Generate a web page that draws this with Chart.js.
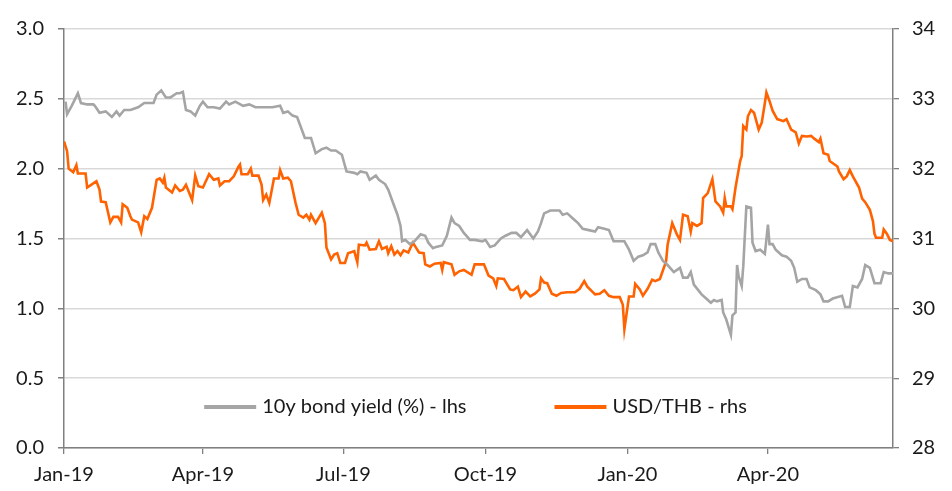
<!DOCTYPE html>
<html><head><meta charset="utf-8">
<script src="https://cdn.jsdelivr.net/npm/chart.js@4.4.1/dist/chart.umd.min.js"></script>
<style>html,body{margin:0;padding:0;background:#fff;}#wrap{width:952px;height:491px;position:relative;}</style>
</head><body><div id="wrap"><canvas id="c"></canvas></div>
<script>
const seriesLabels = ['10y bond yield (%) - lhs', 'USD/THB - rhs'];
const xTickDates = ['2019-01-01','2019-04-01','2019-07-01','2019-10-01','2020-01-01','2020-04-01'];
const xTickLabels = ['Jan-19','Apr-19','Jul-19','Oct-19','Jan-20','Apr-20'];
const xStart = '2019-01-01';
const xEnd = '2020-06-21';

const bondDates = [
'2019-01-02','2019-01-03','2019-01-06','2019-01-10','2019-01-12','2019-01-16','2019-01-20','2019-01-21','2019-01-24','2019-01-28',
'2019-02-01','2019-02-04','2019-02-06','2019-02-09','2019-02-13','2019-02-18','2019-02-22','2019-02-25','2019-02-28',
'2019-03-02','2019-03-05','2019-03-08','2019-03-11','2019-03-15','2019-03-17','2019-03-19','2019-03-21','2019-03-24','2019-03-27','2019-03-30',
'2019-04-01','2019-04-04','2019-04-08','2019-04-12','2019-04-16','2019-04-18','2019-04-22','2019-04-27',
'2019-05-01','2019-05-05','2019-05-10','2019-05-16','2019-05-21','2019-05-23','2019-05-26','2019-05-29',
'2019-06-01','2019-06-04','2019-06-06','2019-06-10','2019-06-13','2019-06-17','2019-06-20','2019-06-23','2019-06-26','2019-06-30',
'2019-07-03','2019-07-08','2019-07-10','2019-07-12','2019-07-16','2019-07-18','2019-07-22','2019-07-24','2019-07-28','2019-07-30',
'2019-08-02','2019-08-05','2019-08-07','2019-08-08','2019-08-10','2019-08-13','2019-08-16','2019-08-20','2019-08-23','2019-08-25','2019-08-28','2019-08-30',
'2019-09-03','2019-09-06','2019-09-09','2019-09-11','2019-09-14','2019-09-17','2019-09-21','2019-09-24','2019-09-29',
'2019-10-01','2019-10-04','2019-10-07','2019-10-11','2019-10-14','2019-10-18','2019-10-21','2019-10-24','2019-10-28',
'2019-11-01','2019-11-04','2019-11-06','2019-11-08','2019-11-12','2019-11-18','2019-11-20','2019-11-23','2019-11-27','2019-11-30',
'2019-12-03','2019-12-07','2019-12-11','2019-12-13','2019-12-17','2019-12-20','2019-12-23','2019-12-27','2019-12-30',
'2020-01-02','2020-01-05','2020-01-08','2020-01-11','2020-01-14','2020-01-16','2020-01-19','2020-01-21','2020-01-24','2020-01-27','2020-01-31',
'2020-02-04','2020-02-06','2020-02-09','2020-02-11','2020-02-13','2020-02-18','2020-02-21','2020-02-24','2020-02-26','2020-02-28',
'2020-03-02','2020-03-03','2020-03-05','2020-03-08','2020-03-09','2020-03-11','2020-03-12','2020-03-13','2020-03-15','2020-03-16','2020-03-18','2020-03-21','2020-03-22','2020-03-24','2020-03-27','2020-03-30',
'2020-04-01','2020-04-02','2020-04-04','2020-04-06','2020-04-10','2020-04-13','2020-04-16','2020-04-18','2020-04-20','2020-04-23','2020-04-26','2020-04-28',
'2020-05-02','2020-05-05','2020-05-07','2020-05-10','2020-05-13','2020-05-19','2020-05-21','2020-05-24','2020-05-26','2020-05-29',
'2020-06-01','2020-06-03','2020-06-06','2020-06-09','2020-06-13','2020-06-15','2020-06-18','2020-06-21'
];
const bondYield = [
2.48,2.39,2.45,2.54,2.47,2.46,2.46,2.45,2.40,2.41,
2.37,2.41,2.38,2.42,2.42,2.44,2.47,2.47,2.47,
2.53,2.56,2.51,2.51,2.54,2.54,2.55,2.42,2.41,2.38,2.45,
2.48,2.44,2.44,2.43,2.48,2.46,2.48,2.45,
2.46,2.44,2.44,2.44,2.45,2.40,2.41,2.38,
2.37,2.28,2.22,2.22,2.11,2.14,2.15,2.13,2.13,2.10,
1.98,1.97,1.96,1.98,1.97,1.92,1.95,1.92,1.89,1.85,
1.76,1.67,1.59,1.48,1.49,1.46,1.48,1.53,1.52,1.47,1.43,1.44,
1.45,1.52,1.65,1.61,1.59,1.54,1.49,1.49,1.48,
1.49,1.44,1.45,1.50,1.52,1.54,1.54,1.51,1.56,
1.50,1.55,1.61,1.68,1.70,1.70,1.67,1.68,1.64,1.61,
1.57,1.56,1.55,1.58,1.57,1.56,1.48,1.48,1.48,
1.42,1.34,1.37,1.38,1.40,1.46,1.46,1.40,1.34,1.31,1.26,
1.29,1.22,1.22,1.26,1.17,1.10,1.07,1.04,1.06,1.05,
1.06,0.97,0.92,0.81,0.95,0.97,1.31,1.23,1.16,1.30,1.73,1.72,1.47,1.41,1.42,1.39,
1.60,1.46,1.46,1.42,1.38,1.37,1.34,1.29,1.19,1.21,1.21,1.15,
1.13,1.10,1.05,1.05,1.07,1.09,1.01,1.01,1.16,1.15,
1.21,1.31,1.29,1.18,1.18,1.26,1.25,1.25
];

const fxDates = [
'2019-01-01','2019-01-03','2019-01-04','2019-01-07','2019-01-09','2019-01-10','2019-01-15','2019-01-16','2019-01-20','2019-01-22','2019-01-24','2019-01-25','2019-01-28','2019-01-31',
'2019-02-02','2019-02-05','2019-02-07','2019-02-08','2019-02-11','2019-02-13','2019-02-14','2019-02-18','2019-02-20','2019-02-22','2019-02-24','2019-02-27',
'2019-03-02','2019-03-04','2019-03-06','2019-03-07','2019-03-08','2019-03-12','2019-03-14','2019-03-17','2019-03-19','2019-03-21','2019-03-25','2019-03-27','2019-03-29',
'2019-04-01','2019-04-05','2019-04-08','2019-04-11','2019-04-12','2019-04-15','2019-04-18','2019-04-21','2019-04-24','2019-04-25','2019-04-26','2019-04-30',
'2019-05-02','2019-05-03','2019-05-07','2019-05-09','2019-05-10','2019-05-12','2019-05-14','2019-05-17','2019-05-20','2019-05-21','2019-05-23','2019-05-26','2019-05-28','2019-05-31',
'2019-06-02','2019-06-05','2019-06-07','2019-06-09','2019-06-10','2019-06-13','2019-06-17','2019-06-19','2019-06-20','2019-06-23','2019-06-25','2019-06-27','2019-06-29',
'2019-07-02','2019-07-04','2019-07-08','2019-07-10','2019-07-11','2019-07-15','2019-07-16','2019-07-18','2019-07-22','2019-07-24','2019-07-26','2019-07-29','2019-07-30',
'2019-08-01','2019-08-03','2019-08-05','2019-08-07','2019-08-09','2019-08-12','2019-08-15','2019-08-17','2019-08-19','2019-08-22','2019-08-23','2019-08-26','2019-08-29',
'2019-09-02','2019-09-03','2019-09-04','2019-09-09','2019-09-11','2019-09-14','2019-09-17','2019-09-22','2019-09-24','2019-09-30',
'2019-10-03','2019-10-06','2019-10-08','2019-10-09','2019-10-13','2019-10-17','2019-10-19','2019-10-22','2019-10-24','2019-10-27','2019-10-30',
'2019-11-02','2019-11-05','2019-11-06','2019-11-08','2019-11-10','2019-11-13','2019-11-16','2019-11-19','2019-11-23','2019-11-28',
'2019-12-01','2019-12-04','2019-12-06','2019-12-11','2019-12-14','2019-12-17','2019-12-20','2019-12-23','2019-12-27','2019-12-29','2019-12-30',
'2020-01-02','2020-01-05','2020-01-06','2020-01-09','2020-01-11','2020-01-14','2020-01-17','2020-01-19','2020-01-22','2020-01-26','2020-01-27','2020-01-30',
'2020-02-02','2020-02-04','2020-02-06','2020-02-09','2020-02-11','2020-02-12','2020-02-15','2020-02-18','2020-02-19','2020-02-22','2020-02-25','2020-02-27',
'2020-03-01','2020-03-03','2020-03-04','2020-03-05','2020-03-08','2020-03-09','2020-03-11','2020-03-14','2020-03-15','2020-03-16','2020-03-18','2020-03-19','2020-03-21','2020-03-23','2020-03-26','2020-03-28','2020-03-30','2020-03-31',
'2020-04-02','2020-04-04','2020-04-07','2020-04-11','2020-04-13','2020-04-15','2020-04-16','2020-04-19','2020-04-21','2020-04-23','2020-04-26','2020-04-29',
'2020-05-01','2020-05-04','2020-05-05','2020-05-07','2020-05-10','2020-05-11','2020-05-16','2020-05-17','2020-05-20','2020-05-22','2020-05-24','2020-05-26','2020-05-30',
'2020-06-01','2020-06-03','2020-06-06','2020-06-08','2020-06-09','2020-06-10','2020-06-14','2020-06-15','2020-06-17','2020-06-19','2020-06-21'
];
const usdThb = [
32.39,32.25,32.00,31.95,32.05,31.93,31.93,31.73,31.79,31.82,31.70,31.53,31.52,31.23,
31.31,31.31,31.23,31.49,31.44,31.32,31.27,31.23,31.09,31.32,31.28,31.44,
31.84,31.86,31.80,31.87,31.73,31.66,31.76,31.68,31.70,31.77,31.55,31.90,31.75,
31.73,31.92,31.84,31.86,31.76,31.82,31.82,31.89,32.03,32.06,31.92,31.92,
32.00,31.90,31.90,31.77,31.55,31.63,31.51,31.86,31.86,31.98,31.86,31.87,31.82,31.51,
31.34,31.30,31.34,31.27,31.34,31.22,31.37,31.22,30.87,30.70,30.77,30.79,30.65,
30.65,30.79,30.82,30.66,30.91,30.90,30.94,30.84,30.85,30.96,30.85,30.88,30.79,
30.89,30.77,30.82,30.76,30.83,30.80,30.94,30.87,30.80,30.79,30.63,30.60,30.64,
30.65,30.55,30.66,30.63,30.48,30.53,30.55,30.48,30.63,30.63,
30.47,30.43,30.32,30.43,30.42,30.27,30.26,30.31,30.16,30.24,30.17,
30.21,30.27,30.43,30.37,30.36,30.21,30.18,30.22,30.23,30.23,
30.28,30.39,30.31,30.20,30.21,30.26,30.18,30.16,30.16,30.05,29.70,
30.17,30.17,30.35,30.27,30.18,30.28,30.41,30.39,30.42,30.67,30.91,31.22,
31.06,30.98,31.34,31.32,31.10,31.22,31.18,31.22,31.58,31.65,31.85,31.53,
31.46,31.37,31.58,31.46,31.46,31.42,31.73,32.11,32.18,32.61,32.56,32.75,32.84,32.80,32.56,32.66,32.94,33.09,
32.97,32.83,32.71,32.68,32.71,32.61,32.56,32.52,32.36,32.47,32.46,32.47,
32.43,32.38,32.43,32.22,32.20,32.11,32.03,31.96,31.85,31.89,31.98,31.89,31.73,
31.57,31.52,31.41,31.25,31.07,31.01,31.01,31.13,31.07,30.98,30.96
];

function dayNum(s) {
  const p = s.split('-').map(Number);
  const b = xStart.split('-').map(Number);
  return (Date.UTC(p[0], p[1]-1, p[2]) - Date.UTC(b[0], b[1]-1, b[2])) / 86400000;
}

const GRAY = '#a5a5a5';
const ORANGE = '#ff6200';
const AXIS = '#808080';
const GRID = '#d9d9d9';
const TEXT = '#1a1a1a';
const FONT = "Lato, 'Open Sans', sans-serif";
const FSIZE = 20;

const legendPlugin = {
  id: 'innerLegend',
  afterDatasetsDraw(chart) {
    const ctx = chart.ctx, ca = chart.chartArea;
    const ds = chart.data.datasets;
    ctx.save();
    ctx.font = FSIZE + 'px ' + FONT;
    const sample = 52, gapText = 6, gapItem = 88;
    const widths = ds.map(d => sample + gapText + ctx.measureText(d.label).width);
    const total = widths.reduce((a, b) => a + b, 0) + gapItem * (ds.length - 1);
    let x = (ca.left + ca.right) / 2 - total / 2 - 3;
    const y = ca.bottom - 41;
    ds.forEach((d, i) => {
      ctx.strokeStyle = d.borderColor;
      ctx.lineWidth = 4;
      ctx.beginPath();
      ctx.moveTo(x, y);
      ctx.lineTo(x + sample, y);
      ctx.stroke();
      ctx.fillStyle = TEXT;
      ctx.textBaseline = 'middle';
      ctx.textAlign = 'left';
      ctx.fillText(d.label, x + sample + gapText, y);
      x += widths[i] + gapItem;
    });
    ctx.restore();
  }
};

new Chart(document.getElementById('c'), {
  type: 'line',
  data: {
    datasets: [
      {
        label: seriesLabels[0],
        data: bondDates.map((d, i) => ({ x: dayNum(d), y: bondYield[i] })),
        borderColor: GRAY, backgroundColor: GRAY,
        borderWidth: 2.6, pointRadius: 0, tension: 0, yAxisID: 'yL'
      },
      {
        label: seriesLabels[1],
        data: fxDates.map((d, i) => ({ x: dayNum(d), y: usdThb[i] })),
        borderColor: ORANGE, backgroundColor: ORANGE,
        borderWidth: 2.6, pointRadius: 0, tension: 0, yAxisID: 'yR'
      }
    ]
  },
  options: {
    responsive: true,
    maintainAspectRatio: false,
    animation: false,
    layout: { padding: { top: 29, left: 0, right: 0, bottom: 0 } },
    plugins: { legend: { display: false }, tooltip: { enabled: false } },
    scales: {
      x: {
        type: 'linear',
        min: dayNum(xStart),
        max: dayNum(xEnd),
        afterBuildTicks: (s) => { s.ticks = xTickDates.map(d => ({ value: dayNum(d) })); },
        afterFit: (s) => { s.height = 43; },
        grid: { drawOnChartArea: false, drawTicks: true, tickLength: 6, color: AXIS, lineWidth: 1.3 },
        border: { display: true, color: AXIS, width: 1.5 },
        ticks: {
          autoSkip: false, maxRotation: 0, padding: 9, color: TEXT,
          font: { family: FONT, size: FSIZE },
          callback: (v, i) => xTickLabels[i]
        }
      },
      yL: {
        position: 'left',
        min: 0, max: 3,
        afterFit: (s) => { s.width = 64; },
        grid: { color: GRID, lineWidth: 1.5, tickColor: AXIS, tickLength: 6, drawTicks: true },
        border: { display: true, color: AXIS, width: 1.5 },
        ticks: {
          stepSize: 0.5, padding: 14, color: TEXT,
          font: { family: FONT, size: FSIZE },
          callback: (v) => Number(v).toFixed(1)
        }
      },
      yR: {
        position: 'right',
        min: 28, max: 34,
        afterFit: (s) => { s.width = 59; },
        grid: { drawOnChartArea: false, color: AXIS, tickLength: 6, drawTicks: true, lineWidth: 1.3 },
        border: { display: true, color: AXIS, width: 1.5 },
        ticks: {
          stepSize: 1, padding: 13, color: TEXT,
          font: { family: FONT, size: FSIZE },
          callback: (v) => String(v)
        }
      }
    }
  },
  plugins: [legendPlugin]
});
</script>
</body></html>
